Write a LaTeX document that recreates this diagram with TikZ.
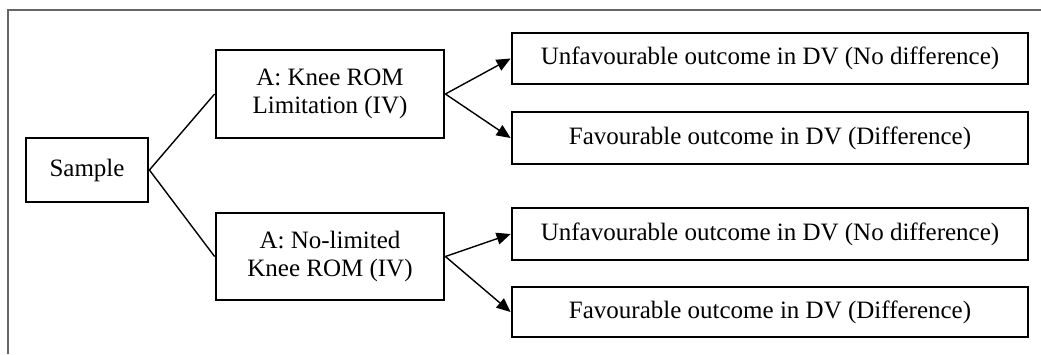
\documentclass[tikz,border=0pt]{standalone}
\usepackage{fontspec}
\setmainfont{Liberation Serif}
\usetikzlibrary{arrows.meta}
\begin{document}
\begin{tikzpicture}[x=1pt,y=-1pt,
  box/.style={draw=black,line width=2.8pt,inner sep=0pt,align=center,font=\fontsize{25}{28.5}\selectfont},
  conn/.style={line width=1.4pt},
  arr/.style={line width=1.4pt,-{Triangle[length=14pt,width=12pt]}},
  frame/.style={draw=black!60,line width=2pt}]
\useasboundingbox (0,0) rectangle (1041,354);
\draw[frame] (8,354) -- (8,10) -- (1041,10);
\node[box,minimum width=122pt,minimum height=64pt] (s) at (87,170) {Sample};
\node[box,minimum width=228pt,minimum height=88pt] (a1) at (330,94) {A: Knee ROM\\Limitation (IV)};
\node[box,minimum width=228pt,minimum height=87pt] (a2) at (330,256.5) {A: No-limited\\Knee ROM (IV)};
\node[box,minimum width=516pt,minimum height=51pt] (r1) at (770,58.5) {Unfavourable outcome in DV (No difference)};
\node[box,minimum width=516pt,minimum height=52pt] (r2) at (770,138) {Favourable outcome in DV (Difference)};
\node[box,minimum width=516pt,minimum height=52pt] (r3) at (770,234) {Unfavourable outcome in DV (No difference)};
\node[box,minimum width=516pt,minimum height=50pt] (r4) at (770,312) {Favourable outcome in DV (Difference)};
\draw[conn] (s.east) -- (a1.west);
\draw[conn] (s.east) -- (a2.west);
\draw[arr] (a1.east) -- (r1.west);
\draw[arr] (a1.east) -- (r2.west);
\draw[arr] (a2.east) -- (r3.west);
\draw[arr] (a2.east) -- (r4.west);
\end{tikzpicture}
\end{document}
